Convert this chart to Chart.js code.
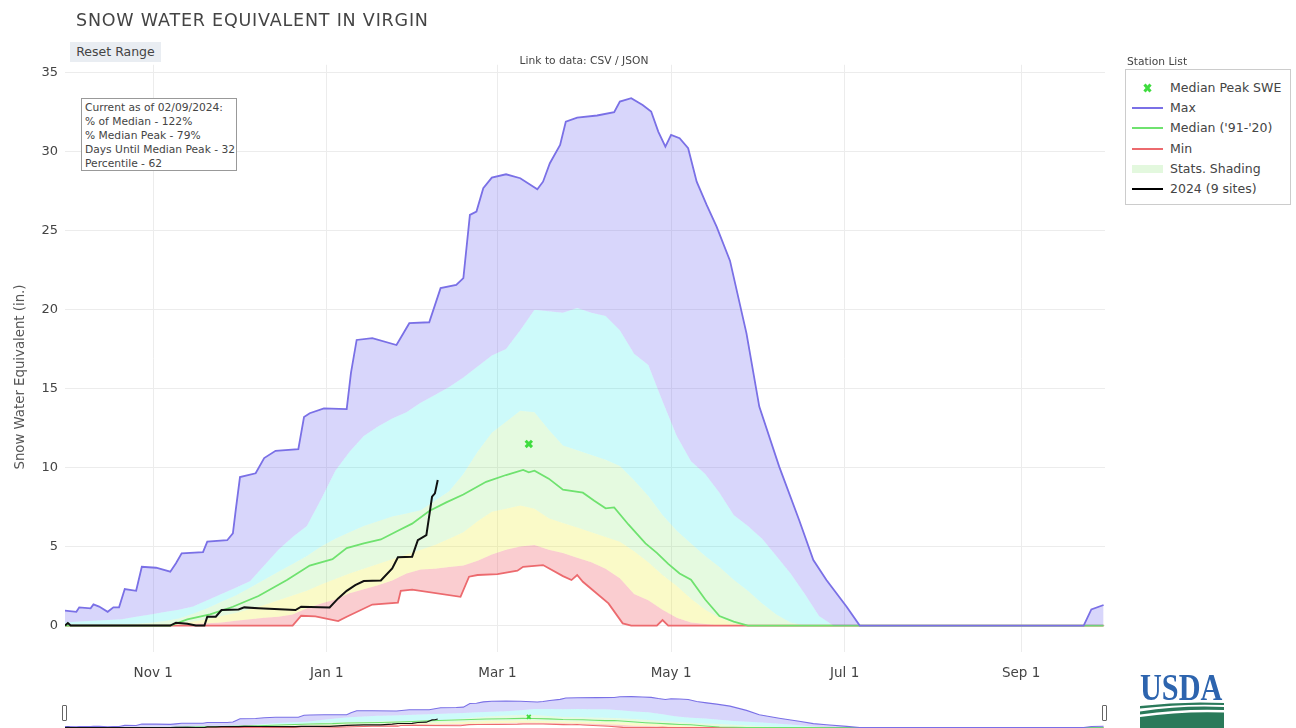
<!DOCTYPE html>
<html>
<head>
<meta charset="utf-8">
<title>Snow Water Equivalent in Virgin</title>
<script src="https://cdn.jsdelivr.net/npm/chart.js@4.4.1/dist/chart.umd.min.js"></script>
<style>
  body { margin: 0; background: #fff; font-family: 'DejaVu Sans', Verdana, sans-serif; color: #444; }
  #page { position: relative; width: 1296px; height: 728px; overflow: hidden; background: #fff; }
  #mainChart { position: absolute; left: 0; top: 0; }
  #rangeChart { position: absolute; left: 65px; top: 688px; }
  .abs { position: absolute; white-space: nowrap; }
  #title { left: 76px; top: 10px; font-size: 17.5px; line-height: 20px; letter-spacing: 0.8px; color: #444; }
  #reset { left: 70px; top: 42px; width: 91px; height: 20px; line-height: 20px; text-align: center; font-size: 12.5px; background: #e9edf2; color: #444; }
  #link { left: 484px; top: 54px; width: 200px; text-align: center; font-size: 10.7px; line-height: 14px; color: #444; }
  #info { left: 81px; top: 98px; width: 151px; height: 69px; border: 1px solid #999; background: #fff; padding: 2px 0 0 3px; font-size: 10.7px; line-height: 14px; color: #444; }
  #ylab { left: -80px; top: 369px; width: 200px; text-align: center; font-size: 13.3px; line-height: 16px; color: #555; transform: rotate(-90deg); }
  #stationList { left: 1127px; top: 55px; font-size: 10.7px; line-height: 14px; color: #444; }
  #legend { left: 1125px; top: 69px; width: 164px; height: 134px; border: 1px solid #ccc; background: #fff; }
  .row { position: absolute; left: 0; height: 20px; width: 164px; }
  .row svg { position: absolute; left: 6px; top: 4px; }
  .row span { position: absolute; left: 44px; top: 0; font-size: 12.5px; line-height: 20px; color: #444; }
  .handle { position: absolute; top: 705px; width: 3px; height: 14px; border: 1px solid #666; border-radius: 1px; background: #fff; }
  #usda { left: 1140px; top: 667px; font-family: 'Liberation Serif', serif; font-weight: bold; font-size: 37.8px; line-height: 40px; color: #2d64ae; transform: scaleX(0.8); transform-origin: left center; }
  #usdaMark { position: absolute; left: 1140px; top: 702px; }
</style>
</head>
<body>
<div id="page">
  <canvas id="mainChart" width="1296" height="680"></canvas>
  <canvas id="rangeChart" width="1040" height="40"></canvas>

  <div id="title" class="abs">SNOW WATER EQUIVALENT IN VIRGIN</div>
  <div id="reset" class="abs">Reset Range</div>
  <div id="link" class="abs">Link to data: CSV / JSON</div>
  <div id="info" class="abs">Current as of 02/09/2024:<br>% of Median - 122%<br>% Median Peak - 79%<br>Days Until Median Peak - 32<br>Percentile - 62</div>
  <div id="ylab" class="abs">Snow Water Equivalent (in.)</div>

  <div id="stationList" class="abs">Station List</div>
  <div id="legend" class="abs"></div>

  <div class="handle" style="left:62px"></div>
  <div class="handle" style="left:1102px"></div>

  <div id="usda" class="abs">USDA</div>
  <svg id="usdaMark" width="84" height="27" viewBox="0 0 84 27">
    <path d="M0 4 Q42 -1 84 1 L84 3 Q42 1.5 0 6.5 Z" fill="#2a7a5a"/>
    <path d="M0 9.5 Q42 3 84 5 L84 8 Q42 6.5 0 12.5 Z" fill="#2a7a5a"/>
    <path d="M0 15 Q42 9 84 10.5 L84 27 L0 27 Z" fill="#2a7a5a"/>
  </svg>
</div>

<script>
// x values are days counted from Oct 1, 2023 (water year 2024)
const monthTicks = [31, 92, 152, 213, 274, 336];
const monthLabels = ['Nov 1', 'Jan 1', 'Mar 1', 'May 1', 'Jul 1', 'Sep 1'];
const sweTicks = [0, 5, 10, 15, 20, 25, 30, 35];

// Max of record
const maxDays = [0, 4, 5, 9, 10, 12, 15, 17, 19, 21, 25, 27, 32, 37, 39, 41, 48.5, 50, 57, 59,
  60, 61.5, 67, 70, 74, 82, 84, 86, 91, 99, 100.5, 102.5, 108, 116.5, 121, 128, 132, 137.5, 140, 142.3,
  144.6, 147, 150, 155, 160, 166, 168, 170.4, 174, 176, 180, 187, 193, 195, 199, 203, 206, 208.5, 211, 213,
  216, 219, 222, 225.5, 229, 233.7, 239.5, 244, 251, 258, 263, 267.6, 274.7, 279.3, 358, 360.7, 365];
const maxSwe = [0.94, 0.87, 1.15, 1.09, 1.34, 1.2, 0.87, 1.15, 1.15, 2.31, 2.2, 3.72, 3.66, 3.41, 3.94, 4.57, 4.65, 5.31, 5.4, 5.84,
  7.31, 9.4, 9.64, 10.6, 11.06, 11.16, 13.2, 13.44, 13.75, 13.7, 16.0, 18.08, 18.19, 17.76, 19.14, 19.2, 21.36, 21.56, 21.99, 26.0,
  26.21, 27.69, 28.36, 28.57, 28.32, 27.62, 28.1, 29.27, 30.43, 31.9, 32.16, 32.29, 32.5, 33.17, 33.39, 32.96, 32.54, 31.27, 30.32, 31.06,
  30.85, 30.22, 28.1, 26.63, 25.26, 23.1, 18.5, 13.86, 10.06, 6.68, 4.15, 2.88, 1.19, 0, 0, 1.02, 1.3];

// Median ('91-'20)
const medDays = [0, 37, 43, 51, 59, 68, 78, 86, 94, 99, 105, 111, 117, 122, 128, 134, 140, 148, 155, 161,
  163, 165, 170, 175, 182, 186, 190, 193, 198, 204, 208, 212, 216, 220, 225, 230, 235, 240, 365];
const medSwe = [0, 0, 0.39, 0.71, 1.19, 1.87, 2.88, 3.8, 4.2, 4.9, 5.2, 5.45, 6.0, 6.45, 7.25, 7.8, 8.3, 9.1, 9.53, 9.85,
  9.7, 9.8, 9.3, 8.6, 8.41, 7.9, 7.42, 7.48, 6.4, 5.2, 4.6, 3.9, 3.3, 2.9, 1.65, 0.6, 0.25, 0, 0];

// Min of record
const minDays = [0, 80, 83, 88, 96, 99, 108, 117, 118, 122, 139, 142, 145, 152, 159, 161, 168, 175, 178, 180,
  182, 191, 196, 199, 208, 210, 212, 365];
const minSwe = [0, 0, 0.62, 0.58, 0.28, 0.56, 1.33, 1.45, 2.2, 2.27, 1.82, 3.09, 3.2, 3.26, 3.47, 3.72, 3.83, 3.13, 2.88, 3.2,
  2.77, 1.4, 0.14, 0, 0, 0.35, 0, 0];

// 2024 (9 sites)
const curDays = [0, 1, 2, 37, 39, 43, 46, 49, 50, 53, 55, 61, 63, 68, 81, 83, 93, 96, 99, 102,
  105, 111, 115, 117, 122, 124, 127, 129, 130, 131];
const curSwe = [0, 0.16, 0, 0, 0.18, 0.12, 0, 0, 0.56, 0.56, 0.98, 1.02, 1.15, 1.09, 0.98, 1.19, 1.15, 1.72, 2.2, 2.56,
  2.82, 2.85, 3.62, 4.32, 4.36, 5.41, 5.73, 8.16, 8.37, 9.21];

// median peak
const peakDay = 163;
const peakSwe = 11.5;

// percentile bands (stats shading)
const bandDays = [0, 5, 10, 15, 20, 25, 30, 35, 40, 45, 50, 55, 60, 65, 70, 75, 80, 85, 90, 95,
  100, 105, 110, 115, 120, 125, 130, 135, 140, 145, 150, 155, 160, 165, 170, 175, 180, 185, 190, 195,
  200, 205, 210, 215, 220, 225, 230, 235, 240, 245, 250, 255, 260, 265, 270, 275, 280, 365];
const p90 = [0.2, 0.25, 0.3, 0.35, 0.4, 0.55, 0.7, 0.85, 1.0, 1.2, 1.6, 2.0, 2.4, 2.8, 3.8, 4.8, 5.6, 6.3, 8.0, 9.8,
  11.0, 12.0, 12.6, 13.1, 13.5, 14.1, 14.6, 15.1, 15.7, 16.4, 17.1, 17.5, 18.7, 20.0, 19.9, 19.8, 20.1, 19.8, 19.6, 18.7,
  17.2, 16.5, 14.2, 12.0, 10.4, 9.6, 8.4, 7.0, 6.3, 5.5, 4.4, 3.3, 2.0, 0.6, 0, 0, 0, 0];
const p70 = [0, 0, 0.02, 0.05, 0.08, 0.12, 0.18, 0.28, 0.45, 0.75, 1.1, 1.5, 1.9, 2.4, 2.9, 3.4, 3.9, 4.4, 5.0, 5.5,
  5.9, 6.3, 6.6, 6.9, 7.1, 7.3, 7.9, 8.5, 9.6, 11.0, 12.2, 12.9, 13.6, 13.5, 12.4, 11.4, 11.1, 10.8, 10.5, 10.1,
  9.2, 8.2, 7.0, 6.0, 5.2, 4.4, 3.7, 2.9, 2.2, 1.4, 0.7, 0.2, 0, 0, 0, 0, 0, 0];
const p30 = [0, 0, 0, 0, 0, 0, 0.02, 0.05, 0.12, 0.25, 0.4, 0.6, 0.8, 1.05, 1.3, 1.6, 1.9, 2.2, 2.6, 2.95,
  3.3, 3.6, 3.9, 4.2, 4.5, 4.8, 5.1, 5.5, 5.9, 6.6, 7.2, 7.4, 7.6, 7.4, 6.8, 6.5, 6.2, 5.9, 5.6, 5.3,
  4.7, 4.0, 3.2, 2.5, 1.7, 1.0, 0.5, 0.15, 0, 0, 0, 0, 0, 0, 0, 0, 0, 0];
const p10 = [0, 0, 0, 0, 0, 0, 0, 0, 0.05, 0.1, 0.15, 0.2, 0.3, 0.4, 0.5, 0.55, 0.7, 1.1, 1.4, 1.65,
  2.05, 2.3, 2.55, 2.85, 3.3, 3.55, 3.6, 3.7, 3.8, 4.1, 4.5, 4.8, 5.0, 5.1, 4.8, 4.6, 4.3, 4.0, 3.6, 3.0,
  2.0, 1.6, 1.0, 0.5, 0.2, 0.1, 0, 0, 0, 0, 0, 0, 0, 0, 0, 0, 0, 0];

const colors = {
  current: '#111111',
  peak: '#3fdc3f',
  max: '#7a70e6',
  median: '#6fe26f',
  min: '#ec6a6e',
  maxFill: 'rgba(99,91,239,0.25)',
  p90Fill: 'rgba(5,230,230,0.2)',
  p70Fill: 'rgba(125,230,100,0.2)',
  p30Fill: 'rgba(235,235,35,0.25)',
  p10Fill: 'rgba(238,88,98,0.3)'
};

const pts = (days, vals) => days.map((d, i) => ({ x: d, y: vals[i] }));

// index 0 is drawn on top
function buildDatasets(w) {
  const band = (label, vals, color, target) => ({
    label, data: pts(bandDays, vals), borderColor: 'rgba(0,0,0,0)', borderWidth: 0,
    backgroundColor: color, fill: target, pointRadius: 0
  });
  return [
    { label: '2024 (9 sites)', data: pts(curDays, curSwe), borderColor: colors.current, borderWidth: 2 * w, pointRadius: 0, fill: false },
    { label: 'Median Peak SWE', data: [{ x: peakDay, y: peakSwe }], showLine: false, pointStyle: 'crossRot',
      pointRadius: 4.5 * w, pointBorderWidth: 3 * w, pointBorderColor: colors.peak, borderColor: colors.peak },
    { label: 'Max', data: pts(maxDays, maxSwe), borderColor: colors.max, borderWidth: 1.8 * w, pointRadius: 0,
      backgroundColor: colors.maxFill, fill: 5 },
    { label: "Median ('91-'20)", data: pts(medDays, medSwe), borderColor: colors.median, borderWidth: 1.8 * w, pointRadius: 0, fill: false },
    { label: 'Min', data: pts(minDays, minSwe), borderColor: colors.min, borderWidth: 1.8 * w, pointRadius: 0, fill: false },
    band('90%', p90, colors.p90Fill, 6),
    band('70%', p70, colors.p70Fill, 7),
    band('30%', p30, colors.p30Fill, 8),
    band('10%', p10, colors.p10Fill, 4)
  ];
}

Chart.defaults.font.family = "'DejaVu Sans', Verdana, sans-serif";

new Chart(document.getElementById('mainChart'), {
  type: 'line',
  data: { datasets: buildDatasets(1) },
  options: {
    responsive: false,
    animation: false,
    events: [],
    layout: { autoPadding: false, padding: { left: 8, top: 64.8, right: 191, bottom: 0 } },
    elements: { line: { tension: 0 } },
    plugins: { legend: { display: false }, tooltip: { enabled: false } },
    scales: {
      x: {
        type: 'linear', min: 0, max: 365.5,
        afterBuildTicks: ax => { ax.ticks = monthTicks.map(v => ({ value: v })); },
        afterFit: ax => { ax.height = 27.6; },
        ticks: { callback: v => monthLabels[monthTicks.indexOf(v)], color: '#444', font: { size: 13.5 }, padding: 13, maxRotation: 0, autoSkip: false },
        grid: { color: '#ececec', drawTicks: false },
        border: { display: false }
      },
      y: {
        min: -1.7, max: 35.5,
        afterBuildTicks: ax => { ax.ticks = sweTicks.map(v => ({ value: v })); },
        afterFit: ax => { ax.width = 57; },
        ticks: { color: '#444', font: { size: 13 }, padding: 7 },
        grid: { color: '#ececec', drawTicks: false },
        border: { display: false }
      }
    }
  }
});

// range slider preview
new Chart(document.getElementById('rangeChart'), {
  type: 'line',
  data: { datasets: buildDatasets(0.6) },
  options: {
    responsive: false,
    animation: false,
    events: [],
    layout: { autoPadding: false, padding: 0 },
    elements: { line: { tension: 0 } },
    plugins: { legend: { display: false }, tooltip: { enabled: false } },
    scales: {
      x: { type: 'linear', min: 0, max: 365.5, display: false },
      y: { min: -0.55, max: 42.7, display: false }
    }
  }
});

// legend
const legendItems = [
  { text: 'Median Peak SWE', kind: 'cross', color: colors.peak },
  { text: 'Max', kind: 'line', color: colors.max },
  { text: "Median ('91-'20)", kind: 'line', color: colors.median },
  { text: 'Min', kind: 'line', color: colors.min },
  { text: 'Stats. Shading', kind: 'band', color: '#e3f8de' },
  { text: '2024 (9 sites)', kind: 'line', color: '#000' }
];
document.getElementById('legend').innerHTML = legendItems.map((it, i) => {
  let sym;
  if (it.kind === 'cross') {
    sym = `<path d="M12.5 2.5 L18.5 9.5 M18.5 2.5 L12.5 9.5" stroke="${it.color}" stroke-width="3"/>`;
  } else if (it.kind === 'band') {
    sym = `<rect x="0" y="2" width="31" height="8" fill="${it.color}"/>`;
  } else {
    sym = `<line x1="0" y1="6" x2="31" y2="6" stroke="${it.color}" stroke-width="2"/>`;
  }
  return `<div class="row" style="top:${8 + i * 20.2}px"><svg width="31" height="12">${sym}</svg><span>${it.text}</span></div>`;
}).join('');
</script>
</body>
</html>
